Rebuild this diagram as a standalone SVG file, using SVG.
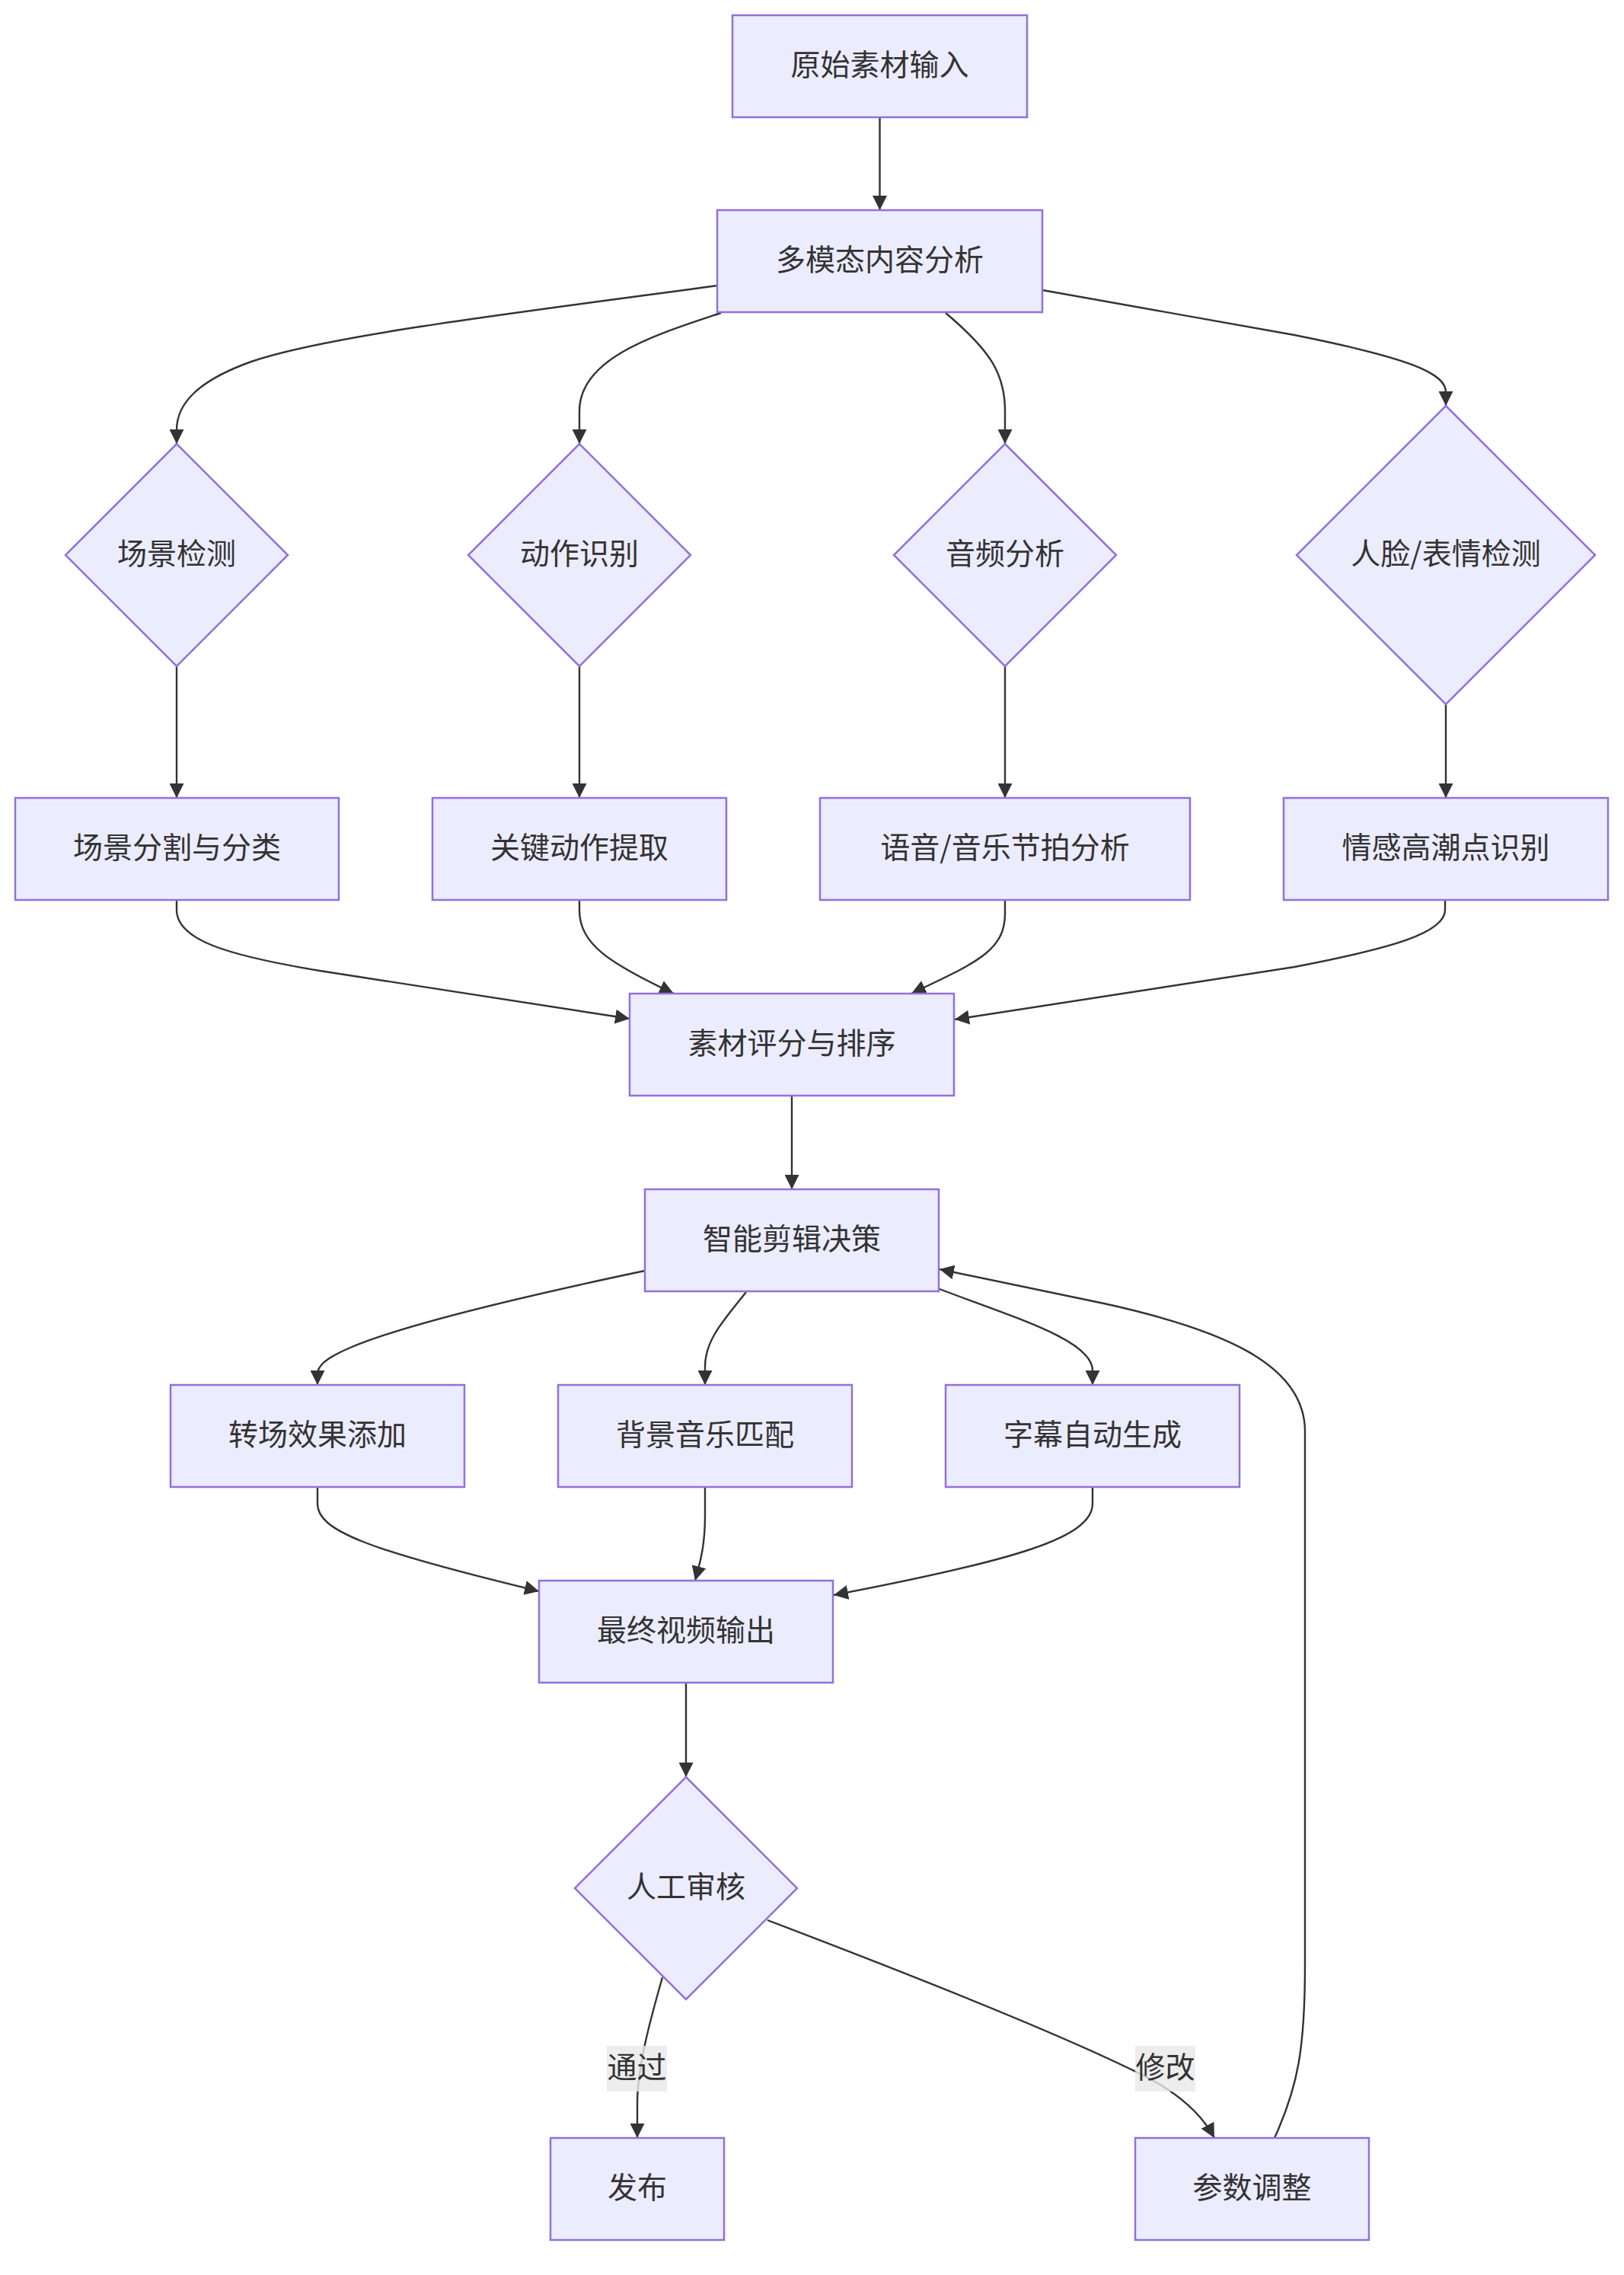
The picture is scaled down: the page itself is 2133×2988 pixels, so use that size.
<svg xmlns="http://www.w3.org/2000/svg" width="2133" height="2988" viewBox="0 0 2133 2988">
<defs>
<marker id="arrow" viewBox="0 0 10 10" refX="10" refY="5" markerUnits="userSpaceOnUse" markerWidth="19" markerHeight="19" orient="auto">
<path d="M0,0 L10,5 L0,10 z" fill="#333333"/>
</marker>
<style>
.node rect,.node polygon{fill:#ECECFF;stroke:#9370DB;stroke-width:2.5}
.node text,.lbl text{font-family:"Noto Sans CJK SC","Noto Sans",sans-serif;font-size:39px;fill:#333333;text-anchor:middle;dominant-baseline:central}
.edges path{fill:none;stroke:#333333;stroke-width:2.4;marker-end:url(#arrow)}
.lbl rect{fill:#e8e8e8;fill-opacity:0.8}
</style>
</defs>
<rect width="2133" height="2988" fill="#ffffff"/>
<g class="edges" id="connectors">
<path d="M1155.5,154 L1155.5,276"/>
<path d="M943,375 C700,408 430,440 330,475 C260,500 232,530 232,565 L232,583"/>
<path d="M947,411 C860,440 761,470 761,540 L761,583"/>
<path d="M1242,411 C1300,460 1320,490 1320,540 L1320,583"/>
<path d="M1369,381 L1700,440 C1850,470 1899,490 1899,515 L1899,533"/>
<path d="M232,875 L232,1048"/>
<path d="M761,875 L761,1048"/>
<path d="M1320,875 L1320,1048"/>
<path d="M1899,925 L1899,1048"/>
<path d="M232,1182 L232,1195 C232,1235 300,1255 420,1275 L827,1338"/>
<path d="M761,1182 L761,1195 C761,1240 800,1265 885,1305"/>
<path d="M1320,1182 L1320,1200 C1320,1250 1280,1265 1197,1305"/>
<path d="M1898,1182 L1898,1195 C1898,1225 1830,1245 1700,1270 L1254,1339"/>
<path d="M1040,1439 L1040,1562"/>
<path d="M847,1669 C700,1700 530,1740 460,1770 C425,1785 417,1795 417,1805 L417,1819"/>
<path d="M980,1697 C950,1735 926,1760 926,1795 L926,1819"/>
<path d="M1234,1693 C1330,1730 1435,1760 1435,1800 L1435,1819"/>
<path d="M417,1953 L417,1975 C417,2010 480,2035 708,2090"/>
<path d="M926,1953 L926,1990 C926,2030 920,2050 913,2076"/>
<path d="M1435,1953 L1435,1975 C1435,2020 1330,2050 1095,2095"/>
<path d="M901,2210 L901,2334"/>
<path d="M870,2597 C855,2650 838,2710 837,2760 L837,2808"/>
<path d="M1008,2522 C1200,2595 1400,2675 1500,2725 C1550,2750 1580,2780 1595,2808"/>
<path d="M1674,2808 C1705,2740 1714,2690 1714,2580 L1714,1880 C1714,1790 1600,1745 1450,1712 L1234,1667"/>
</g>
<g class="lbl" id="label-pass"><rect x="797" y="2687" width="79" height="60"/><text x="836.5" y="2712">通过</text></g>
<g class="lbl" id="label-modify"><rect x="1491" y="2687" width="79" height="60"/><text x="1530.5" y="2712">修改</text></g>
<g class="node" id="n-input"><rect x="962" y="20" width="387" height="134"/><text x="1155.5" y="82">原始素材输入</text></g>
<g class="node" id="n-analysis"><rect x="942" y="276" width="427" height="134"/><text x="1155.5" y="338">多模态内容分析</text></g>
<g class="node" id="n-scene"><polygon points="232,583 378,729 232,875 86,729"/><text x="232" y="724">场景检测</text></g>
<g class="node" id="n-action"><polygon points="761,583 907,729 761,875 615,729"/><text x="761" y="724">动作识别</text></g>
<g class="node" id="n-audio"><polygon points="1320,583 1466,729 1320,875 1174,729"/><text x="1320" y="724">音频分析</text></g>
<g class="node" id="n-face"><polygon points="1899,533 2095,729 1899,925 1703,729"/><text x="1899" y="724">人脸/表情检测</text></g>
<g class="node" id="n-seg"><rect x="20" y="1048" width="425" height="134"/><text x="232.5" y="1110">场景分割与分类</text></g>
<g class="node" id="n-key"><rect x="568" y="1048" width="386" height="134"/><text x="761" y="1110">关键动作提取</text></g>
<g class="node" id="n-beat"><rect x="1077" y="1048" width="486" height="134"/><text x="1320" y="1110">语音/音乐节拍分析</text></g>
<g class="node" id="n-emo"><rect x="1686" y="1048" width="426" height="134"/><text x="1899" y="1110">情感高潮点识别</text></g>
<g class="node" id="n-score"><rect x="827" y="1305" width="426" height="134"/><text x="1040" y="1367">素材评分与排序</text></g>
<g class="node" id="n-decide"><rect x="847" y="1562" width="386" height="134"/><text x="1040" y="1624">智能剪辑决策</text></g>
<g class="node" id="n-trans"><rect x="224" y="1819" width="386" height="134"/><text x="417" y="1881">转场效果添加</text></g>
<g class="node" id="n-bgm"><rect x="733" y="1819" width="386" height="134"/><text x="926" y="1881">背景音乐匹配</text></g>
<g class="node" id="n-sub"><rect x="1242" y="1819" width="386" height="134"/><text x="1435" y="1881">字幕自动生成</text></g>
<g class="node" id="n-out"><rect x="708" y="2076" width="386" height="134"/><text x="901" y="2138">最终视频输出</text></g>
<g class="node" id="n-review"><polygon points="901,2334 1047,2480 901,2626 755,2480"/><text x="901" y="2475">人工审核</text></g>
<g class="node" id="n-pub"><rect x="723" y="2808" width="228" height="134"/><text x="837" y="2870">发布</text></g>
<g class="node" id="n-param"><rect x="1491" y="2808" width="307" height="134"/><text x="1644.5" y="2870">参数调整</text></g>
</svg>
